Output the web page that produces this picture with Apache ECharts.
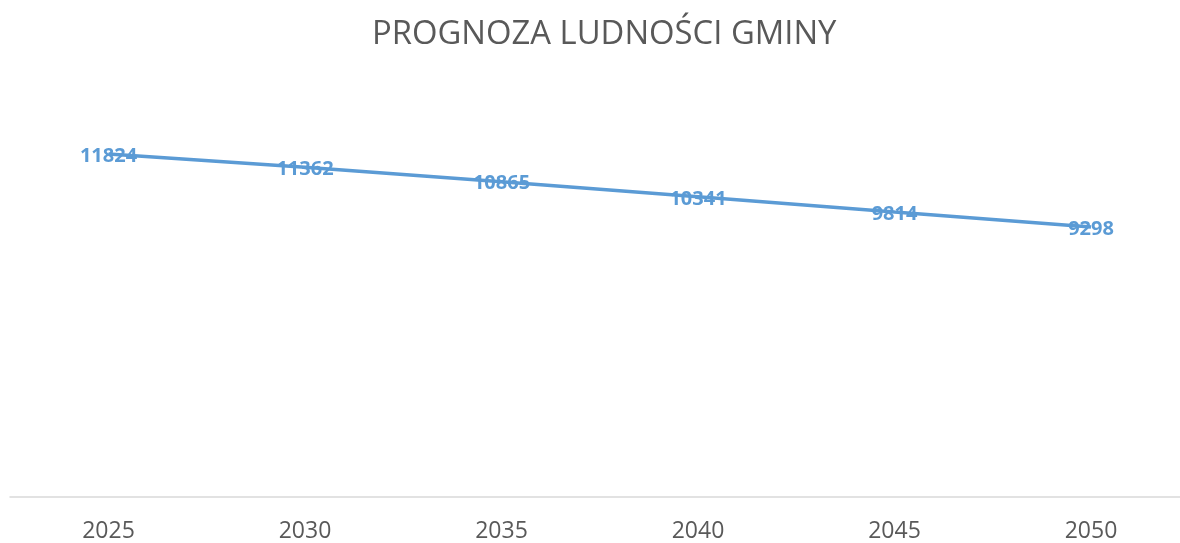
<!DOCTYPE html>
<html>
<head>
<meta charset="utf-8">
<script src="https://cdn.jsdelivr.net/npm/echarts@6/dist/echarts.min.js"></script>
<style>
html,body{margin:0;padding:0;background:#fff;}
#main{width:1180px;height:543px;}
</style>
</head>
<body>
<div id="main"></div>
<script>
// lata prognozy
var years = ['2025', '2030', '2035', '2040', '2045', '2050'];
// liczba ludnosci
var ludnosc = [11824, 11362, 10865, 10341, 9814, 9298];
var yMin = 0;
var yMax = 14000;

var chart = echarts.init(document.getElementById('main'));
var option = {
    backgroundColor: '#ffffff',
    animation: false,
    title: {
        text: 'PROGNOZA LUDNOŚCI GMINY',
        left: 367,
        top: 13,
        textStyle: {
            color: '#595959',
            fontFamily: 'Open Sans',
            fontWeight: 'normal',
            fontSize: 32.8
        }
    },
    // grid 0: dane, grid 1: sama os pozioma na cala szerokosc
    grid: [
        { left: 108.5, right: 89, top: 91, height: 406 },
        { left: 10, right: 0, top: 91, height: 406 }
    ],
    xAxis: [{
        type: 'category',
        gridIndex: 0,
        data: years,
        boundaryGap: false,
        axisLine: { show: false },
        axisTick: { show: false },
        axisLabel: {
            color: '#595959',
            fontFamily: 'Open Sans',
            fontSize: 23,
            margin: 24
        }
    }, {
        type: 'category',
        gridIndex: 1,
        data: years,
        axisLine: { lineStyle: { color: '#d9d9d9', width: 1.5 } },
        axisTick: { show: false },
        axisLabel: { show: false }
    }],
    yAxis: [{
        type: 'value',
        gridIndex: 0,
        min: yMin,
        max: yMax,
        show: false
    }, {
        type: 'value',
        gridIndex: 1,
        min: yMin,
        max: yMax,
        show: false
    }],
    series: [{
        type: 'line',
        xAxisIndex: 0,
        yAxisIndex: 0,
        data: ludnosc,
        showSymbol: true,
        symbol: 'circle',
        symbolSize: 0,
        itemStyle: { color: '#5b9bd5' },
        lineStyle: { color: '#5b9bd5', width: 3.5 },
        label: {
            show: true,
            position: 'inside',
            offset: [0, 2],
            color: '#5b9bd5',
            fontFamily: 'Open Sans',
            fontWeight: 'bold',
            fontSize: 20
        }
    }]
};
chart.setOption(option);
</script>
</body>
</html>
